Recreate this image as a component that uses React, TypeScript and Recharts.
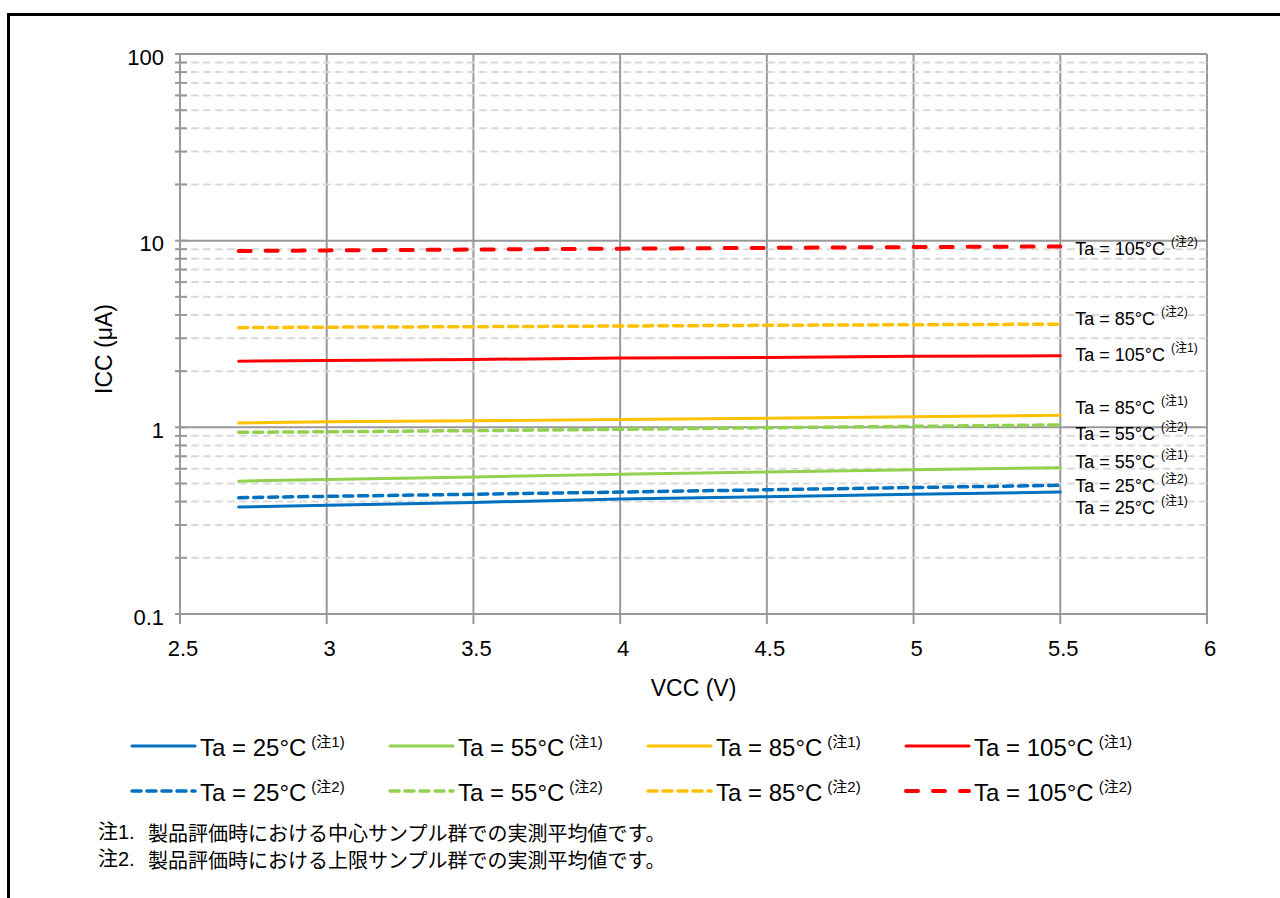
import React from "react";
import {
  LineChart,
  Line,
  XAxis,
  YAxis,
  CartesianGrid,
  ReferenceLine,
  LabelList,
} from "recharts";

// VCC (V) sample points
const VCC = [2.7, 3.0, 3.5, 4.0, 4.5, 5.0, 5.5];

// ICC (uA)
const ICC_25_N1 = [0.374, 0.382, 0.396, 0.413, 0.425, 0.438, 0.45];
const ICC_55_N1 = [0.515, 0.525, 0.542, 0.56, 0.576, 0.592, 0.608];
const ICC_85_N1 = [1.055, 1.07, 1.085, 1.1, 1.12, 1.14, 1.16];
const ICC_105_N1 = [2.26, 2.28, 2.31, 2.35, 2.37, 2.4, 2.42];
const ICC_25_N2 = [0.42, 0.427, 0.438, 0.45, 0.463, 0.476, 0.489];
const ICC_55_N2 = [0.94, 0.947, 0.96, 0.976, 0.995, 1.012, 1.03];
const ICC_85_N2 = [3.42, 3.44, 3.46, 3.49, 3.52, 3.545, 3.57];
const ICC_105_N2 = [8.8, 8.87, 8.96, 9.06, 9.15, 9.24, 9.32];

const X_TICKS = [2.5, 3, 3.5, 4, 4.5, 5, 5.5, 6];
const Y_MAJOR = [0.1, 1, 10, 100];
const Y_MINOR = [
  0.2, 0.3, 0.4, 0.5, 0.6, 0.7, 0.8, 0.9,
  2, 3, 4, 5, 6, 7, 8, 9,
  20, 30, 40, 50, 60, 70, 80, 90,
];
const Y_TICKS = [...Y_MAJOR, ...Y_MINOR].sort((a, b) => a - b);

const NOTES = [
  ["注1.", "製品評価時における中心サンプル群での実測平均値です。"],
  ["注2.", "製品評価時における上限サンプル群での実測平均値です。"],
];

const series = [
  { key: "t25n1", values: ICC_25_N1, temp: "25", note: "1", color: "#0070C0", dash: undefined, width: 3, dy: 16 },
  { key: "t55n1", values: ICC_55_N1, temp: "55", note: "1", color: "#92D050", dash: undefined, width: 3, dy: -6 },
  { key: "t85n1", values: ICC_85_N1, temp: "85", note: "1", color: "#FFC000", dash: undefined, width: 3, dy: -7 },
  { key: "t105n1", values: ICC_105_N1, temp: "105", note: "1", color: "#FF0000", dash: undefined, width: 3, dy: -1 },
  { key: "t25n2", values: ICC_25_N2, temp: "25", note: "2", color: "#0070C0", dash: "9 6", width: 3.5, dy: 1 },
  { key: "t55n2", values: ICC_55_N2, temp: "55", note: "2", color: "#92D050", dash: "9 6", width: 3.5, dy: 9 },
  { key: "t85n2", values: ICC_85_N2, temp: "85", note: "2", color: "#FFC000", dash: "9 6", width: 3.5, dy: -5 },
  { key: "t105n2", values: ICC_105_N2, temp: "105", note: "2", color: "#FF0000", dash: "12 15", width: 4, dy: 3 },
];

const data = VCC.map((v, i) => {
  const row: any = { vcc: v };
  series.forEach((s) => (row[s.key] = s.values[i]));
  return row;
});

const FONT = '"Liberation Sans", Arial, "Noto Sans CJK JP", sans-serif';
const GRID = "#999999";

const YTick = (props: any) => {
  const { x, y, payload } = props;
  const major = Y_MAJOR.includes(payload.value);
  return (
    <g>
      <line x1={x - 5} x2={x + 7} y1={y} y2={y} stroke={GRID} strokeWidth={2} />
      {major && (
        <text x={x - 16} y={y + 3} textAnchor="end" dominantBaseline="central" fontSize={22} fill="#000">
          {String(payload.value)}
        </text>
      )}
    </g>
  );
};

const endLabel = (s: any) => (props: any) => {
  const { index } = props;
  if (index !== VCC.length - 1) return null;
  const x = props.x ?? props.viewBox?.x;
  const y = props.y ?? props.viewBox?.y;
  return (
    <text x={x + 15} y={y + s.dy} dominantBaseline="central" fontSize={18} fill="#000">
      {`Ta = ${s.temp}°C`}
      <tspan fontSize={12} dx={6} dy={-7}>{`(注${s.note})`}</tspan>
    </text>
  );
};

const LegendItem = ({ s }: { s: any }) => (
  <div style={{ display: "flex", alignItems: "center", width: 258, height: 30 }}>
    <svg width={68} height={10}>
      <line
        x1={2}
        x2={65}
        y1={5}
        y2={5}
        stroke={s.color}
        strokeWidth={s.width}
        strokeDasharray={s.dash}
        strokeLinecap="round"
      />
    </svg>
    <span style={{ fontSize: 24, marginLeft: 2, whiteSpace: "nowrap" }}>
      {`Ta = ${s.temp}°C`}
      <span style={{ fontSize: 15, verticalAlign: 9, marginLeft: 5 }}>{`(注${s.note})`}</span>
    </span>
  </div>
);

export default function App() {
  const row1 = series.filter((s) => s.note === "1");
  const row2 = series.filter((s) => s.note === "2");
  return (
    <div
      style={{
        position: "absolute",
        left: 0,
        top: 0,
        width: 1280,
        height: 898,
        overflow: "hidden",
        background: "#fff",
        fontFamily: FONT,
        color: "#000",
      }}
    >
      <div
        style={{
          position: "absolute",
          left: 7,
          top: 13,
          width: 1273,
          height: 885,
          boxSizing: "border-box",
          borderTop: "3px solid #000",
          borderLeft: "3px solid #000",
        }}
      />
      <div style={{ position: "absolute", left: 0, top: 0 }}>
        <LineChart width={1280} height={710} data={data} margin={{ top: 54, right: 73, left: 0, bottom: 0 }}>
          <CartesianGrid horizontal={false} stroke={GRID} strokeWidth={2} />
          {Y_MINOR.map((v) => (
            <ReferenceLine
              key={`m${v}`}
              y={v}
              stroke="#D9D9D9"
              strokeWidth={2}
              strokeDasharray="6 6"
              strokeLinecap="round"
            />
          ))}
          {Y_MAJOR.slice(1).map((v) => (
            <ReferenceLine key={`M${v}`} y={v} stroke={GRID} strokeWidth={2} />
          ))}
          <XAxis
            dataKey="vcc"
            type="number"
            domain={[2.5, 6]}
            ticks={X_TICKS}
            tickFormatter={(v) => String(v)}
            height={96}
            stroke={GRID}
            strokeWidth={2}
            tickSize={10}
            tickMargin={16}
            tick={{ fill: "#000", fontSize: 22, dx: 3 }}
            label={{
              content: ({ viewBox }: any) => (
                <text
                  x={viewBox.x + viewBox.width / 2}
                  y={viewBox.y + 74}
                  textAnchor="middle"
                  dominantBaseline="central"
                  fontSize={23}
                  fill="#000"
                >
                  VCC (V)
                </text>
              ),
            }}
          />
          <YAxis
            type="number"
            scale="log"
            domain={[0.1, 100]}
            allowDataOverflow
            ticks={Y_TICKS}
            interval={0}
            width={180}
            stroke={GRID}
            strokeWidth={2}
            tickLine={false}
            tickSize={0}
            tickMargin={0}
            tick={<YTick />}
            label={{
              content: ({ viewBox }: any) => {
                const cx = viewBox.x + 104;
                const cy = viewBox.y + viewBox.height / 2 + 15;
                return (
                  <text
                    x={cx}
                    y={cy}
                    transform={`rotate(-90 ${cx} ${cy})`}
                    textAnchor="middle"
                    dominantBaseline="central"
                    fontSize={23}
                    fill="#000"
                  >
                    ICC (μA)
                  </text>
                );
              },
            }}
          />
          {series.map((s) => (
            <Line
              key={s.key}
              dataKey={s.key}
              type="linear"
              stroke={s.color}
              strokeWidth={s.width}
              strokeDasharray={s.dash}
              strokeLinecap="round"
              dot={false}
              activeDot={false}
              isAnimationActive={false}
            >
              <LabelList dataKey={s.key} content={endLabel(s)} />
            </Line>
          ))}
        </LineChart>
      </div>
      <div style={{ position: "absolute", left: 130, top: 731 }}>
        <div style={{ display: "flex" }}>
          {row1.map((s) => (
            <LegendItem key={s.key} s={s} />
          ))}
        </div>
        <div style={{ display: "flex", marginTop: 15 }}>
          {row2.map((s) => (
            <LegendItem key={s.key} s={s} />
          ))}
        </div>
      </div>
      <div
        style={{
          position: "absolute",
          left: 98,
          top: 819,
          fontSize: 20,
          fontFamily: FONT,
        }}
      >
        {NOTES.map(([n, t]) => (
          <div key={n} style={{ display: "flex", height: 27, lineHeight: "27px", overflow: "hidden" }}>
            <span style={{ width: 50 }}>{n}</span>
            <span style={{ fontFamily: '"Noto Sans CJK JP", sans-serif', lineHeight: "27px" }}>{t}</span>
          </div>
        ))}
      </div>
    </div>
  );
}
